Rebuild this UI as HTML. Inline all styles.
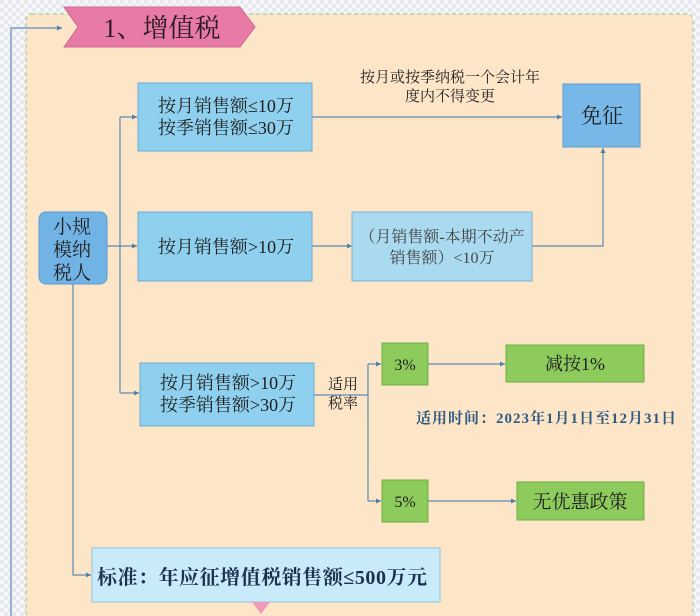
<!DOCTYPE html>
<html><head><meta charset="utf-8"><style>
html,body{margin:0;padding:0;width:700px;height:616px;overflow:hidden;background:#f2f3f6;}
svg{display:block;font-family:"Liberation Serif","Noto Serif CJK SC",serif;}
</style></head><body>
<svg width="700" height="616" viewBox="0 0 700 616" xmlns="http://www.w3.org/2000/svg">
<defs>
<marker id="a" markerWidth="6" markerHeight="6" refX="5" refY="3" orient="auto" markerUnits="userSpaceOnUse"><path d="M0,0.5 L5,3 L0,5.5z" fill="#4f7fa6"/></marker>
<pattern id="chk" width="8" height="8" patternUnits="userSpaceOnUse"><rect width="8" height="8" fill="#f6f6f8"/><rect width="4" height="4" fill="#e8e9ee"/><rect x="4" y="4" width="4" height="4" fill="#e8e9ee"/></pattern>
</defs>
<rect width="700" height="616" fill="url(#chk)"/>
<rect x="26" y="14" width="667" height="610" rx="6" fill="#fde5c8" stroke="#8fc79a" stroke-dasharray="4,3"/>
<path d="M11,616 L11,28 L62,28" fill="none" stroke="#7a9cc4" stroke-width="1.5" marker-end="url(#a)"/>
<polygon points="64,7 240,7 255,27 240,47 64,47 78,27" fill="#e77aa6" stroke="#d06890"/>
<text x="162" y="37" font-size="26" text-anchor="middle" fill="#2a1a22">1、增值税</text>
<g fill="none" stroke="#5d8bb0" stroke-width="1.2">
<path d="M107,246 L137,246" marker-end="url(#a)"/>
<path d="M120,117 L120,393"/>
<path d="M120,117 L137,117" marker-end="url(#a)"/>
<path d="M120,393 L139,393" marker-end="url(#a)"/>
<path d="M312,117 L562,117" marker-end="url(#a)"/>
<path d="M312,246 L352,246" marker-end="url(#a)"/>
<path d="M532,246 L603,246 L603,148" marker-end="url(#a)"/>
<path d="M312,395 L368,395"/>
<path d="M368,364 L368,501"/>
<path d="M368,364 L381,364" marker-end="url(#a)"/>
<path d="M368,501 L381,501" marker-end="url(#a)"/>
<path d="M428,364 L505,364" marker-end="url(#a)"/>
<path d="M428,501 L516,501" marker-end="url(#a)"/>
<path d="M73,284 L73,575 L91,575" marker-end="url(#a)"/>
</g>
<rect x="39" y="212" width="68" height="72" rx="7" fill="#72b3e6" stroke="#5b9bd0"/>
<g font-size="19" text-anchor="middle" fill="#1e1e1e">
<text x="72" y="233">小规</text><text x="72" y="256">模纳</text><text x="72" y="279">税人</text></g>
<rect x="138" y="83" width="174" height="68" fill="#8ed0ee" stroke="#6aaad4"/>
<text x="226" y="112" font-size="18" text-anchor="middle" fill="#1e1e1e">按月销售额≤10万</text>
<text x="226" y="134" font-size="18" text-anchor="middle" fill="#1e1e1e">按季销售额≤30万</text>
<rect x="138" y="212" width="174" height="69" fill="#8ed0ee" stroke="#6aaad4"/>
<text x="226" y="253" font-size="18" text-anchor="middle" fill="#1e1e1e">按月销售额&gt;10万</text>
<rect x="140" y="363" width="174" height="63" fill="#8ed0ee" stroke="#6aaad4"/>
<text x="228" y="389" font-size="18" text-anchor="middle" fill="#1e1e1e">按月销售额&gt;10万</text>
<text x="228" y="411" font-size="18" text-anchor="middle" fill="#1e1e1e">按季销售额&gt;30万</text>
<text x="450" y="82" font-size="15" text-anchor="middle" fill="#1e1e1e">按月或按季纳税一个会计年</text>
<text x="450" y="101" font-size="15" text-anchor="middle" fill="#1e1e1e">度内不得变更</text>
<rect x="563" y="84" width="77" height="63" fill="#78b8e8" stroke="#5b9bd0"/>
<text x="602" y="123" font-size="21" text-anchor="middle" fill="#1e1e1e">免征</text>
<rect x="352" y="212" width="180" height="69" fill="#a9daf0" stroke="#7ab4d8"/>
<text x="442" y="242" font-size="16" text-anchor="middle" fill="#444">（月销售额-本期不动产</text>
<text x="442" y="263" font-size="16" text-anchor="middle" fill="#444">销售额）&lt;10万</text>
<text x="343" y="389" font-size="15" text-anchor="middle" fill="#1e1e1e">适用</text>
<text x="343" y="408" font-size="15" text-anchor="middle" fill="#1e1e1e">税率</text>
<rect x="382" y="343" width="46" height="42" fill="#8dcb5d" stroke="#6fae45"/>
<text x="405" y="370" font-size="16" text-anchor="middle" fill="#1e1e1e">3%</text>
<rect x="506" y="345" width="138" height="37" fill="#8dcb5d" stroke="#6fae45"/>
<text x="575" y="370" font-size="18" text-anchor="middle" fill="#1e1e1e">减按1%</text>
<text x="416" y="423" font-size="15" font-weight="bold" fill="#2f5a80" textLength="260" lengthAdjust="spacing">适用时间：2023年1月1日至12月31日</text>
<rect x="382" y="480" width="46" height="42" fill="#8dcb5d" stroke="#6fae45"/>
<text x="405" y="507" font-size="16" text-anchor="middle" fill="#1e1e1e">5%</text>
<rect x="517" y="482" width="127" height="38" fill="#8dcb5d" stroke="#6fae45"/>
<text x="580" y="508" font-size="19" text-anchor="middle" fill="#1e1e1e">无优惠政策</text>
<rect x="92" y="548" width="348" height="54" fill="#c9eaf8" stroke="#8ec4e0"/>
<text x="97" y="584" font-size="20" font-weight="bold" fill="#1d3050" textLength="330" lengthAdjust="spacing">标准：年应征增值税销售额≤500万元</text>
<polygon points="252,602 270,602 261,614" fill="#f09ab8"/>
</svg>
</body></html>
